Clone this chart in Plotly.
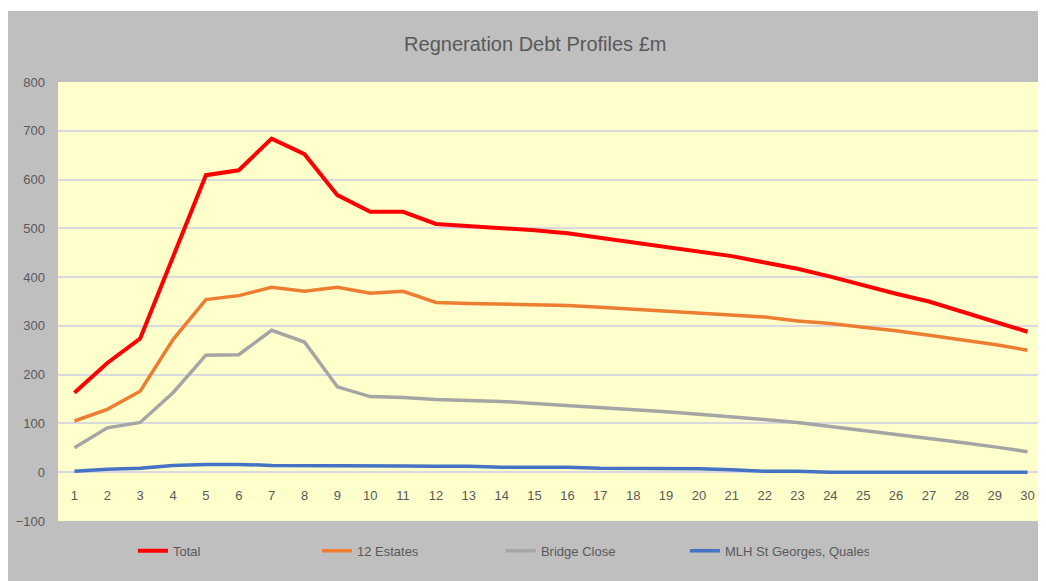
import plotly.graph_objects as go

YEARS = list(range(1, 31))

TOTAL = [163, 224, 274, 443, 609, 619, 684, 652, 568, 534, 534, 509, 505, 501, 496,
         490, 481, 471, 463, 454, 443, 430, 417, 401, 383, 366, 350, 329, 309, 288]
ESTATES_12 = [105, 129, 166, 272, 354, 362, 379, 371, 379, 367, 371, 348, 346, 345, 344,
              342, 338, 334, 331, 327, 322, 318, 310, 305, 297, 290, 281, 271, 262, 250]
BRIDGE_CLOSE = [50, 91, 102, 163, 240, 241, 291, 267, 175, 155, 153, 149, 147, 145, 141,
                137, 133, 129, 124, 119, 114, 108, 102, 94, 86, 78, 69, 61, 52, 42]
MLH = [2, 6, 8, 14, 16, 16, 14, 14, 14, 14, 13, 12, 12, 10, 10,
       10, 8, 8, 7, 7, 5, 2, 2, 0, 0, 0, 0, 0, 0, 0]

SERIES = [
    ("Total", TOTAL, "#FF0000", 4),
    ("12 Estates", ESTATES_12, "#ED7D31", 3.5),
    ("Bridge Close", BRIDGE_CLOSE, "#A5A5A5", 3.5),
    ("MLH St Georges, Quales", MLH, "#4472C4", 3.5),
]

FONT = "Liberation Sans Narrow, Arial Narrow, sans-serif"
TEXT = "#595959"

fig = go.Figure()
for name, vals, color, width in SERIES:
    fig.add_trace(go.Scatter(
        x=YEARS, y=vals, mode="lines", name=name,
        line=dict(color=color, width=width),
    ))

# page body has an 8px margin, so the figure is 8px smaller each way
fig.update_layout(
    width=1038, height=573,
    margin=dict(l=50, r=2, t=74, b=60),
    paper_bgcolor="#BFBFBF",
    plot_bgcolor="#FFFFCC",
    font=dict(family=FONT, color=TEXT, size=13),
    title=dict(
        text="Regneration Debt Profiles £m",
        x=0.508, xanchor="center", y=0.937, yanchor="middle",
        font=dict(size=20, color=TEXT, family=FONT),
    ),
    xaxis=dict(
        range=[0.5, 30.5], tickmode="linear", dtick=1,
        showgrid=False, zeroline=False, showline=False,
        anchor="free", position=(0 + 100) / 900,
        ticks="", ticklabelstandoff=14,
        tickfont=dict(size=13, color=TEXT),
    ),
    yaxis=dict(
        range=[-100, 800], dtick=100,
        gridcolor="#D9D9E0", gridwidth=1.5,
        zeroline=False, showline=False,
        ticklabelstandoff=12,
        tickfont=dict(size=13, color=TEXT),
    ),
    legend=dict(
        orientation="h", x=0.076, xanchor="left", y=-0.068, yanchor="middle",
        bgcolor="rgba(0,0,0,0)", font=dict(size=13, color=TEXT),
        entrywidthmode="pixels", entrywidth=139,
    ),
    showlegend=True,
    shapes=[
        dict(type="rect", xref="paper", yref="paper", x0=-0.1, x1=1.1,
             y0=1.0 + 71 / 439, y1=1.3, fillcolor="white", line_width=0, layer="above"),
        dict(type="line", xref="paper", yref="paper", x0=1.001, x1=1.001,
             y0=-0.2, y1=1.0 + 71 / 439, line=dict(color="#9A9A9A", width=1.5), layer="above"),
    ],
)

fig.write_html("out.html")
